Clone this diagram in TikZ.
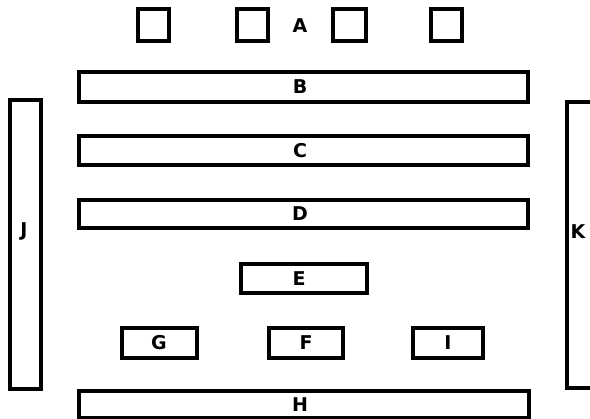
\documentclass[tikz,border=0pt]{standalone}
\usepackage{fontspec}
\setsansfont{DejaVu Sans}
\begin{document}
\begin{tikzpicture}[x=1pt,y=-1pt,
  bx/.style={draw=black,line width=3.2pt,fill=none},
  lbl/.style={font=\sffamily\bfseries\fontsize{19}{19}\selectfont,inner sep=0pt}]
\useasboundingbox (0,0) rectangle (590,419);
% top squares
\draw[bx] (138,9) rectangle (169,41) coordinate (s1);
\draw[bx] (237,9) rectangle (268,41) coordinate (s2);
\draw[bx] (333,9) rectangle (366,41) coordinate (s3);
\draw[bx] (431,9) rectangle (462,41) coordinate (s4);
\node[lbl] (A) at (300,26) {A};
% long bars
\draw[bx] (79,72) rectangle (528,102);
\node[lbl] (B) at (300,87) {B};
\draw[bx] (79,136) rectangle (528,165);
\node[lbl] (C) at (300,151) {C};
\draw[bx] (79,200) rectangle (528,228);
\node[lbl] (D) at (300,214) {D};
% E
\draw[bx] (241,264) rectangle (367,293);
\node[lbl] (E) at (299,279) {E};
% G F I
\draw[bx] (122,328) rectangle (197,358);
\node[lbl] (G) at (159,343) {G};
\draw[bx] (269,328) rectangle (343,358);
\node[lbl] (F) at (306,343) {F};
\draw[bx] (413,328) rectangle (483,358);
\node[lbl] (I) at (448,343) {I};
% H
\draw[bx] (79,391) rectangle (529,418);
\node[lbl] (H) at (300,405) {H};
% J K
\draw[bx] (10,100) rectangle (41,389);
\node[lbl] (J) at (24,231) {J};
\draw[bx] (567,102) rectangle (595,388);
\node[lbl] (K) at (578,232) {K};
\end{tikzpicture}
\end{document}
